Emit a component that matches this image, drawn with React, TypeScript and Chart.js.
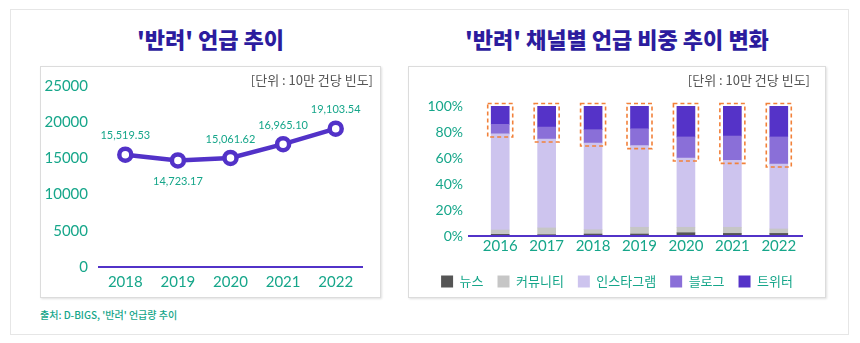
import React, { useEffect, useRef } from 'react';
import { Chart, registerables } from 'chart.js';

Chart.register(...registerables);

// ---------- data ----------
const lineYears = ['2018', '2019', '2020', '2021', '2022'];
const mentionValues = [15519.53, 14723.17, 15061.62, 16965.1, 19103.54];
const lineLabelBelow = [false, true, false, false, false];
const lineYMax = 25000;
const lineYStep = 5000;

const barYears = ['2016', '2017', '2018', '2019', '2020', '2021', '2022'];
const newsShare = [1.3, 1.0, 1.5, 1.5, 2.5, 2.0, 2.0];
const communityShare = [3.3, 5.2, 3.3, 5.2, 4.2, 4.7, 3.4];
const instagramShare = [73.9, 68.4, 66.7, 62.8, 53.3, 51.5, 50.0];
const blogShare = [7.4, 9.2, 10.3, 13.0, 16.2, 18.7, 20.8];
const twitterShare = [14.1, 16.2, 18.2, 17.5, 23.8, 23.1, 23.8];
const channelNames = ['뉴스', '커뮤니티', '인스타그램', '블로그', '트위터'];
const barYMax = 100;
const barYStep = 20;

const leftTitle = "'반려' 언급 추이";
const rightTitle = "'반려' 채널별 언급 비중 추이 변화";
const unitText = '[단위 : 10만 건당 빈도]';
const sourceText = "출처: D-BIGS, '반려' 언급량 추이";

// ---------- styles ----------
const GREEN = '#16a68a';
const TITLE = '#2c1c9e';
const LINE = '#5232c8';
const ORANGE = '#f2813a';
const channelColors = ['#555555', '#c6c6c6', '#cdc4ee', '#8a6fd8', '#5533c8'];
const NUM_FONT = "Lato, 'Noto Sans CJK KR', sans-serif";
const KR_FONT = "'Noto Sans CJK KR', sans-serif";

const valueLabelPlugin = {
  id: 'valueLabels',
  afterDatasetsDraw(chart: any) {
    const meta = chart.getDatasetMeta(0);
    const ctx = chart.ctx;
    ctx.save();
    ctx.font = `11px ${NUM_FONT}`;
    ctx.fillStyle = GREEN;
    ctx.textAlign = 'center';
    ctx.textBaseline = 'middle';
    meta.data.forEach((pt: any, i: number) => {
      const txt = mentionValues[i].toLocaleString('en-US', {
        minimumFractionDigits: 2,
        maximumFractionDigits: 2,
      });
      const y = lineLabelBelow[i] ? pt.y + 21 : pt.y - 19;
      ctx.fillText(txt, pt.x, y);
    });
    ctx.restore();
  },
};

const highlightPlugin = {
  id: 'highlightBoxes',
  afterDatasetsDraw(chart: any) {
    const { ctx, scales, chartArea } = chart;
    const xs = scales.x;
    const ys = scales.y;
    ctx.save();
    // baseline
    ctx.strokeStyle = LINE;
    ctx.lineWidth = 2;
    ctx.beginPath();
    const y0 = ys.getPixelForValue(0);
    ctx.moveTo(chartArea.left - 9, y0);
    ctx.lineTo(chartArea.right + 1, y0);
    ctx.stroke();
    // dashed boxes around blog + twitter
    ctx.strokeStyle = ORANGE;
    ctx.lineWidth = 1.6;
    ctx.setLineDash([4, 3]);
    barYears.forEach((_, i) => {
      const cx = xs.getPixelForValue(i);
      const top = ys.getPixelForValue(barYMax) - 2.5;
      const bottom = ys.getPixelForValue(barYMax - blogShare[i] - twitterShare[i]) + 3;
      ctx.strokeRect(cx - 12.5, top, 25, bottom - top);
    });
    ctx.restore();
  },
};

function useChart(ref: React.RefObject<HTMLCanvasElement>, make: () => any) {
  useEffect(() => {
    if (!ref.current) return;
    const chart = new Chart(ref.current, make());
    return () => chart.destroy();
  }, []);
}

const noGrid = { display: false, drawTicks: false };

function LineChart() {
  const ref = useRef<HTMLCanvasElement>(null);
  useChart(ref, () => ({
    type: 'line',
    data: {
      labels: lineYears,
      datasets: [
        {
          data: mentionValues,
          borderColor: LINE,
          borderWidth: 4.5,
          pointRadius: 6,
          pointBorderWidth: 4.5,
          pointBackgroundColor: '#ffffff',
          pointBorderColor: LINE,
          tension: 0,
        },
      ],
    },
    options: {
      responsive: false,
      animation: false,
      layout: { padding: { top: 18, right: 19, left: 0, bottom: 0 } },
      plugins: { legend: { display: false }, tooltip: { enabled: false } },
      scales: {
        x: {
          offset: true,
          grid: noGrid,
          border: { display: true, color: LINE, width: 2 },
          ticks: { color: GREEN, font: { size: 15, family: NUM_FONT }, padding: 6 },
          afterFit: (s: any) => {
            s.height = 31;
          },
        },
        y: {
          min: 0,
          max: lineYMax,
          grid: noGrid,
          border: { display: false },
          ticks: {
            stepSize: lineYStep,
            color: GREEN,
            font: { size: 15, family: NUM_FONT },
            padding: 11,
            callback: (v: any) => String(v),
          },
          afterFit: (s: any) => {
            s.width = 59;
          },
        },
      },
    },
    plugins: [valueLabelPlugin],
  }));
  return <canvas ref={ref} width={341} height={232} style={{ display: 'block' }} />;
}

function BarChart() {
  const ref = useRef<HTMLCanvasElement>(null);
  const shares = [newsShare, communityShare, instagramShare, blogShare, twitterShare];
  useChart(ref, () => ({
    type: 'bar',
    data: {
      labels: barYears,
      datasets: shares.map((d, i) => ({
        label: channelNames[i],
        data: d,
        backgroundColor: channelColors[i],
        borderWidth: 0,
        barThickness: 18,
      })),
    },
    options: {
      responsive: false,
      animation: false,
      layout: { padding: { top: 40, right: 0, left: 0, bottom: 0 } },
      plugins: {
        tooltip: { enabled: false },
        legend: {
          position: 'bottom',
          labels: {
            boxWidth: 12,
            boxHeight: 12,
            padding: 14,
            color: GREEN,
            font: { size: 13, family: KR_FONT },
          },
        },
      },
      scales: {
        x: {
          stacked: true,
          grid: noGrid,
          border: { display: false },
          ticks: { color: GREEN, font: { size: 15, family: NUM_FONT }, padding: 1 },
          afterFit: (s: any) => {
            s.height = 25;
          },
        },
        y: {
          stacked: true,
          min: 0,
          max: barYMax,
          grid: noGrid,
          border: { display: false },
          ticks: {
            stepSize: barYStep,
            color: GREEN,
            font: { size: 14, family: NUM_FONT },
            padding: 14,
            callback: (v: any) => `${v}%`,
          },
          afterFit: (s: any) => {
            s.width = 69;
          },
        },
        yPad: {
          position: 'right',
          display: true,
          grid: noGrid,
          border: { display: false },
          ticks: { display: false },
          afterFit: (s: any) => {
            s.width = 24;
          },
        },
      },
    },
    plugins: [highlightPlugin],
  }));
  return <canvas ref={ref} width={418} height={232} style={{ display: 'block' }} />;
}

const panelStyle: React.CSSProperties = {
  position: 'absolute',
  top: 66,
  height: 232,
  boxSizing: 'border-box',
  border: '1px solid #dcdcdc',
  boxShadow: '1px 1px 2px rgba(0,0,0,0.12)',
  background: '#fff',
};

const titleStyle: React.CSSProperties = {
  position: 'absolute',
  top: 24,
  height: 28,
  lineHeight: '28px',
  fontSize: 22,
  fontWeight: 900,
  color: TITLE,
  fontFamily: KR_FONT,
  textAlign: 'center',
  whiteSpace: 'nowrap',
};

const unitStyle: React.CSSProperties = {
  position: 'absolute',
  top: 72,
  lineHeight: '16px',
  fontSize: 13,
  color: '#555555',
  fontFamily: KR_FONT,
  whiteSpace: 'nowrap',
  zIndex: 2,
};

export default function App() {
  return (
    <div
      style={{
        position: 'fixed',
        left: 0,
        top: 0,
        width: 860,
        height: 343,
        background: '#ffffff',
        overflow: 'hidden',
      }}
    >
      <div
        style={{
          position: 'absolute',
          left: 10,
          top: 9,
          width: 839,
          height: 326,
          boxSizing: 'border-box',
          border: '1px solid #e6e6e6',
        }}
      />
      <div style={{ ...titleStyle, left: 40, width: 341 }}>{leftTitle}</div>
      <div style={{ ...titleStyle, left: 408, width: 418 }}>{rightTitle}</div>
      <div style={{ ...panelStyle, left: 40, width: 341 }}>
        <div style={{ position: 'absolute', left: -1, top: -1 }}>
          <LineChart />
        </div>
      </div>
      <div style={{ ...panelStyle, left: 408, width: 418 }}>
        <div style={{ position: 'absolute', left: -1, top: -1 }}>
          <BarChart />
        </div>
      </div>
      <div style={{ ...unitStyle, right: 860 - 373 }}>{unitText}</div>
      <div style={{ ...unitStyle, right: 860 - 810 }}>{unitText}</div>
      <div
        style={{
          position: 'absolute',
          left: 40,
          top: 308,
          lineHeight: '14px',
          fontSize: 10,
          fontWeight: 500,
          color: GREEN,
          fontFamily: KR_FONT,
          whiteSpace: 'nowrap',
        }}
      >
        {sourceText}
      </div>
    </div>
  );
}
